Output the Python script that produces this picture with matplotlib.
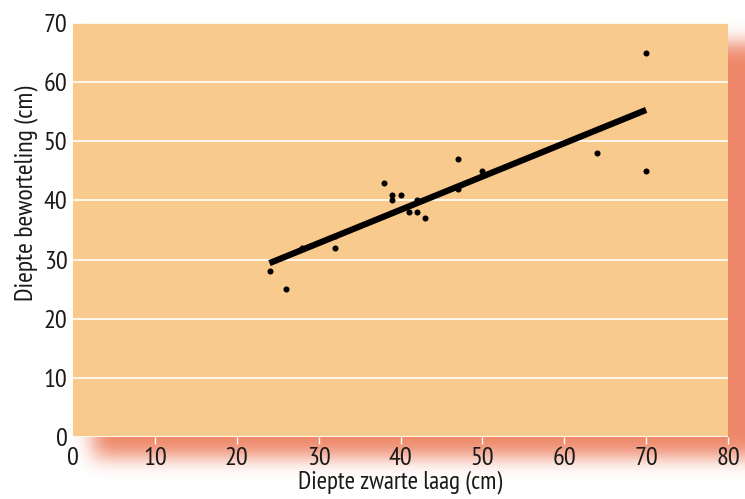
import numpy as np
import matplotlib
matplotlib.use("Agg")
import matplotlib.pyplot as plt
from matplotlib import font_manager
from matplotlib.font_manager import FontProperties

# ---- data ----
x_depth_black = [24, 26, 28, 32, 32, 38, 39, 39, 40, 41, 42, 42, 43, 47, 47, 50, 64, 70, 70]
y_depth_roots = [28, 25, 32, 34, 32, 43, 41, 40, 41, 38, 40, 38, 37, 47, 42, 45, 48, 65, 45]
trend_x = [24, 70]
trend_y = [29.4, 55.3]
x_ticks = [0, 10, 20, 30, 40, 50, 60, 70, 80]
y_ticks = [0, 10, 20, 30, 40, 50, 60, 70]
x_label = "Diepte zwarte laag (cm)"
y_label = "Diepte beworteling (cm)"


def regular_file(cands):
    for n in cands:
        ents = [f for f in font_manager.fontManager.ttflist
                if f.name == n and f.style == 'normal' and str(f.weight) in ('400', 'normal', 'regular')
                and '[' not in f.fname]
        if ents:
            ents.sort(key=lambda f: (0 if 'regular' in f.fname.lower() else 1, len(f.fname)))
            return ents[0].fname
    return None


cond_file = regular_file(["PT Sans Narrow", "Fira Sans Condensed", "Roboto Condensed",
                          "IBM Plex Sans Condensed", "Encode Sans Semi Condensed"])


def fp(fname, size):
    if fname:
        return FontProperties(fname=fname, size=size)
    return FontProperties(family='DejaVu Sans', size=size)


W, H = 745, 499
fig = plt.figure(figsize=(W / 100, H / 100), dpi=100)

# axes rectangle in pixels
L, R, T, B = 73, 728, 23, 437

# ---- blurred shadow behind the plot area ----
bg = fig.add_axes([0, 0, 1, 1], zorder=0)
bg.set_axis_off()
mask = np.zeros((H, W + 60))
dx, dy = 20, 20
mask[T + dy:B + dy, L + dx:R + dx + 40] = 1.0
sigma = 10.0
k = np.arange(-3 * int(sigma), 3 * int(sigma) + 1)
g = np.exp(-k ** 2 / (2 * sigma ** 2)); g /= g.sum()
mask = np.apply_along_axis(lambda r: np.convolve(r, g, mode='same'), 1, mask)
mask = np.apply_along_axis(lambda c: np.convolve(c, g, mode='same'), 0, mask)
mask = mask[:, :W]
img = np.zeros((H, W, 4))
img[..., 0] = 238 / 255
img[..., 1] = 135 / 255
img[..., 2] = 105 / 255
img[..., 3] = np.clip(mask, 0, 1)
bg.imshow(img, extent=[0, 1, 0, 1], aspect='auto', origin='upper', interpolation='bilinear')
bg.set_xlim(0, 1); bg.set_ylim(0, 1)

ax = fig.add_axes([L / W, 1 - B / H, (R - L) / W, (B - T) / H], zorder=1)
ax.set_facecolor('#F9CA8D')
for s in ax.spines.values():
    s.set_visible(False)

ax.set_xlim(0, 80)
ax.set_ylim(0, 70)
ax.set_xticks(x_ticks)
ax.set_yticks(y_ticks)
ax.yaxis.grid(True, color='white', linewidth=1.2)
ax.set_axisbelow(True)
ax.tick_params(axis='x', colors='white', length=5, width=1, labelcolor='#1a1a1a', pad=2.5)
ax.tick_params(axis='y', length=0, labelcolor='#1a1a1a', pad=4)
tick_fp = fp(cond_file, 19)
for lab in ax.get_xticklabels() + ax.get_yticklabels():
    lab.set_fontproperties(tick_fp)

ax.plot(trend_x, trend_y, color='black', linewidth=4.5, solid_capstyle='butt', zorder=3)
ax.scatter(x_depth_black, y_depth_roots, s=19, color='black', zorder=4, linewidths=0)

ax.set_xlabel(x_label, fontproperties=fp(cond_file, 18), color='#1a1a1a', labelpad=0)
ax.set_ylabel(y_label, fontproperties=fp(cond_file, 18.5), color='#1a1a1a')
ax.yaxis.set_label_coords((38 - L) / (R - L), 1 - (193 - T) / (B - T))

fig.savefig('out.png', dpi=100)
